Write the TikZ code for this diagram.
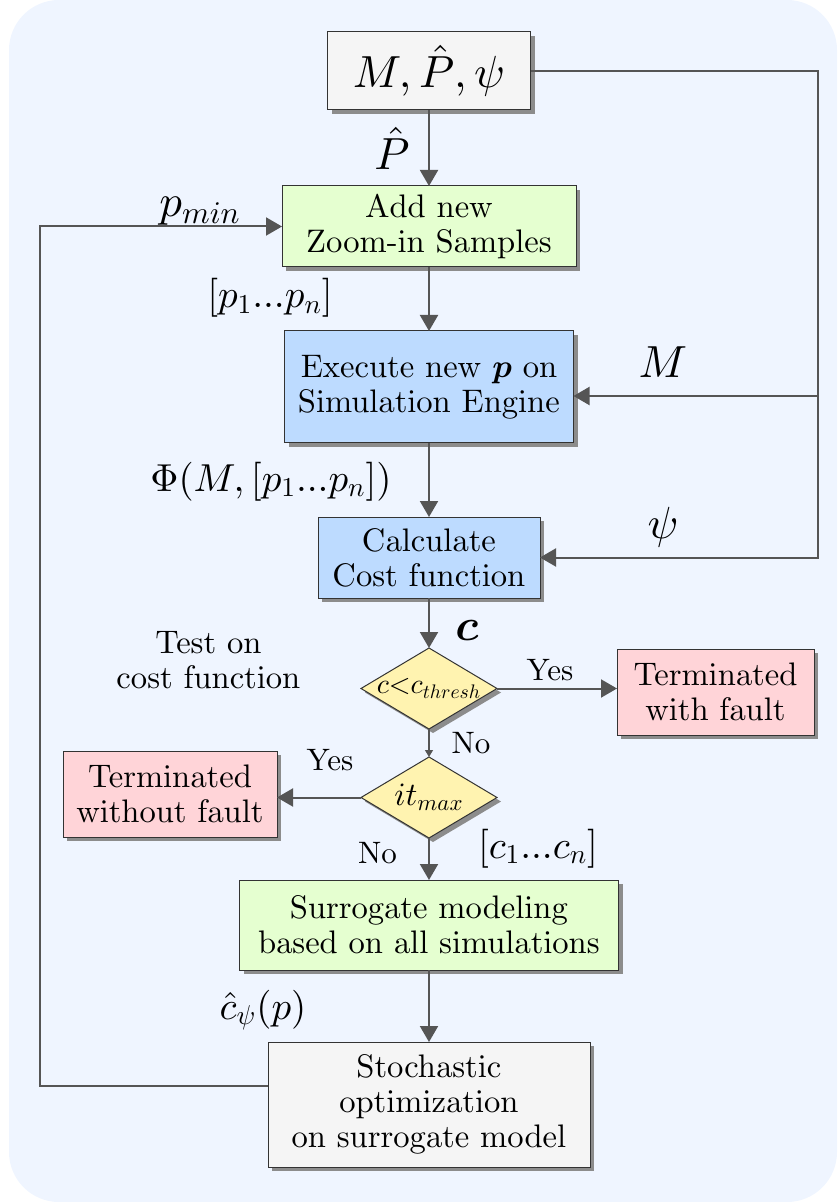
\documentclass[tikz,border=0pt]{standalone}
\usepackage{amsmath}
\usetikzlibrary{shapes.geometric,shadows,arrows.meta,calc}

% scalable Computer Modern (10pt design) at any size, text and math
\DeclareFontShape{OT1}{cmr}{m}{n}{<-6>cmr5<6-8>cmr7<8->cmr10}{}
\DeclareFontShape{OT1}{cmr}{bx}{n}{<-6>cmbx5<6-8>cmbx7<8->cmbx10}{}
\DeclareFontShape{OML}{cmm}{m}{it}{<-6>cmmi5<6-8>cmmi7<8->cmmi10}{}
\DeclareFontShape{OML}{cmm}{b}{it}{<-6>cmmib5<6-8>cmmib7<8->cmmib10}{}
\DeclareFontShape{OMS}{cmsy}{m}{n}{<-6>cmsy5<6-8>cmsy7<8->cmsy10}{}
\DeclareFontShape{OMS}{cmsy}{b}{n}{<-6>cmbsy5<6-8>cmbsy7<8->cmbsy10}{}
\DeclareFontShape{OMX}{cmex}{m}{n}{<->cmex10}{}

\definecolor{bgcol}{HTML}{EFF5FF}
\definecolor{grayfill}{HTML}{F5F5F5}
\definecolor{greenfill}{HTML}{E5FFD0}
\definecolor{bluefill}{HTML}{BDDBFF}
\definecolor{yellowfill}{HTML}{FFF3B0}
\definecolor{pinkfill}{HTML}{FFD4D8}
\definecolor{linecol}{HTML}{555555}
\definecolor{bordercol}{HTML}{333333}
\definecolor{shadowcol}{HTML}{8C8C8C}

\newcommand\cmtext{\fontencoding{OT1}\fontfamily{cmr}}
\newcommand\bxfont{\cmtext\fontsize{16.3}{17.5}\selectfont}
\newcommand\bigmath{\cmtext\fontsize{22.5}{24}\selectfont}
\newcommand\midmath{\cmtext\fontsize{19.5}{21}\selectfont}
\newcommand\answer{\cmtext\fontsize{15.5}{17}\selectfont}

\begin{document}
\begin{tikzpicture}[x=0.5pt,y=-0.5pt,
  every node/.style={inner sep=0pt, outer sep=0pt},
  shadowed/.style={drop shadow={shadow xshift=2pt, shadow yshift=-2pt, fill=shadowcol, opacity=1}},
  box/.style={rectangle, draw=bordercol, line width=0.5pt, align=center, font=\bxfont, shadowed},
  decision/.style={diamond, draw=bordercol, line width=0.5pt, fill=yellowfill, font=\bxfont,
    minimum width=68pt, minimum height=40.5pt, shadowed},
  arr/.style={draw=linecol, line width=1pt, -{Triangle[length=8pt,width=9pt]}},
  thinarr/.style={draw=linecol, line width=0.6pt, -{Triangle[length=3.5pt,width=4pt]}},
  lbl/.style={anchor=base}
]
\useasboundingbox (0,0) rectangle (837,1202);
\fill[bgcol, rounded corners=25pt] (9,0) rectangle (837,1202);

% process boxes
\node[box, fill=grayfill, minimum width=101.5pt, minimum height=39pt, font=\bigmath] (top) at (429,71) {$M,\hat{P},\psi$};
\node[box, fill=greenfill, minimum width=147pt, minimum height=40.5pt] (add) at (429,226.5) {Add new\\Zoom-in Samples};
\node[box, fill=bluefill, minimum width=144.5pt, minimum height=56pt] (exec) at (429,387) {Execute new $\boldsymbol{p}$ on\\Simulation Engine};
\node[box, fill=bluefill, minimum width=111pt, minimum height=40.5pt] (calc) at (429,557.5) {Calculate\\Cost function};
\node[decision] (d1) at (429,688.5) {\makebox[0pt]{\fontsize{14}{15}\selectfont$c{<}c_{thresh}$}};
\node[box, fill=pinkfill, minimum width=98.5pt, minimum height=43pt] (fault) at (715.5,692) {Terminated\\with fault};
\node[decision] (d2) at (429,797.5) {\makebox[0pt]{$it_{max}$}};
\node[box, fill=pinkfill, minimum width=107pt, minimum height=43pt] (nofault) at (170,794) {Terminated\\without fault};
\node[box, fill=greenfill, minimum width=189.5pt, minimum height=45pt] (sur) at (429,925) {Surrogate modeling\\based on all simulations};
\node[box, fill=grayfill, minimum width=161pt, minimum height=62.5pt] (sto) at (429,1104.5) {Stochastic\\optimization\\on surrogate model};

% routing points
\coordinate (rm) at (818,396);
\coordinate (rb) at (818,557.5);
\coordinate (lb) at (40,1086);
\coordinate (lt) at (40,226.5);

% main chain
\draw[arr] (top) -- (add);
\draw[arr] (add) -- (exec);
\draw[arr] (exec) -- (calc);
\draw[arr] (calc) -- (d1);
\draw[thinarr] (d1) -- (d2);
\draw[arr] (d2) -- (sur);
\draw[arr] (sur) -- (sto);

% inputs fed from the top box
\draw[arr] (top.east) -| (rb) -- (calc.east);
\draw[arr] (rm) -- (exec.east |- rm);

% decisions
\draw[arr] (d1.east) -- (d1.east -| fault.west);
\draw[arr] (d2.west) -- (d2.west -| nofault.east);

% feedback loop
\draw[arr] (sto.west |- lb) -- (lb) -- (lt) -- (add.west);

% labels
\node[lbl, font=\bigmath] (lP) at (392,170) {$\hat{P}$};
\node[lbl, font=\bigmath] (lpmin) at (200,217) {$p_{min}$};
\node[lbl, font=\midmath] (lpn) at (270,308) {$[p_1...p_n]$};
\node[lbl, font=\bigmath] (lM) at (663,378) {$M$};
\node[lbl, font=\midmath] (lPhi) at (271,491) {$\Phi(M,[p_1...p_n])$};
\node[lbl, font=\bigmath] (lpsi) at (663,538) {$\psi$};
\node[lbl, font=\bigmath] (lc) at (467,640) {$\boldsymbol{c}$};
\node[align=center, font=\bxfont] (ltest) at (208.5,660) {Test on\\cost function};
\node[lbl, font=\answer] (lyes1) at (550,680) {Yes};
\node[lbl, font=\answer] (lno1) at (471,753) {No};
\node[lbl, font=\answer] (lyes2) at (330,770) {Yes};
\node[lbl, font=\answer] (lno2) at (377.5,863) {No};
\node[lbl, font=\midmath] (lcn) at (538,858) {$[c_1...c_n]$};
\node[lbl, font=\midmath] (lchat) at (263,1019) {$\hat{c}_\psi(p)$};
\end{tikzpicture}
\end{document}
